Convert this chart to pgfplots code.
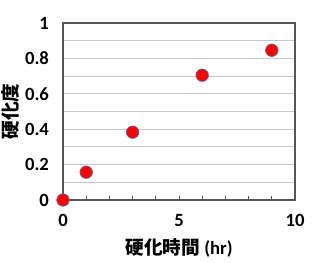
\documentclass[border=0pt]{standalone}
\usepackage{fontspec}
\setmainfont{Carlito}
\newfontfamily\cjk{Noto Sans CJK JP}
\usepackage{pgfplots}
\pgfplotsset{compat=1.18}
\usetikzlibrary{calc}
\definecolor{gridc}{RGB}{200,200,200}
\definecolor{axl}{RGB}{85,85,85}
\definecolor{mk}{RGB}{80,110,170}
\begin{document}
\begin{tikzpicture}[x=0.75pt,y=0.75pt]
\begin{axis}[
  scale only axis,
  width=174pt, height=132.75pt,
  xmin=0, xmax=10, ymin=0, ymax=1,
  xtick={0,5,10}, minor xtick={1,2,3,4,6,7,8,9},
  ytick={0,0.2,0.4,0.6,0.8,1}, minor ytick={0.1,0.3,0.5,0.7,0.9},
  ymajorgrids, yminorgrids,
  major grid style={draw=gridc, line width=0.8pt},
  minor grid style={draw=gridc, line width=0.8pt},
  axis line style={axl, line width=0.9pt},
  x axis line style={black},
  xtick pos=bottom, ytick style={draw=none}, minor y tick style={draw=none},
  xtick style={axl, line width=0.6pt},
  major tick length=3pt, minor tick length=3pt,
  tick align=inside,
  /pgf/number format/assume math mode=true,
  ticklabel style={font=\fontsize{14}{16}\selectfont\bfseries},
  yticklabel style={xshift=-7pt},
  xticklabel style={yshift=-7pt},
  xlabel={{\cjk 硬化時間} (hr)},
  ylabel={\cjk 硬化度},
  label style={font=\fontsize{14}{16}\selectfont\bfseries},
  xlabel style={yshift=-2pt},
  ylabel style={yshift=-2.5pt},
  clip=false,
]
\addplot[only marks, mark=*, mark size=4.7pt, mark options={fill=red, draw=mk, line width=0.5pt}]
coordinates {(0,0) (1,0.157) (3,0.383) (6,0.705) (9,0.846)};
\end{axis}
\pgfresetboundingbox
\path[use as bounding box] ($(current axis.south west)+(-47.25pt,-47.25pt)$) rectangle ($(current axis.south west)+(196.5pt,150pt)$);
\end{tikzpicture}
\end{document}
